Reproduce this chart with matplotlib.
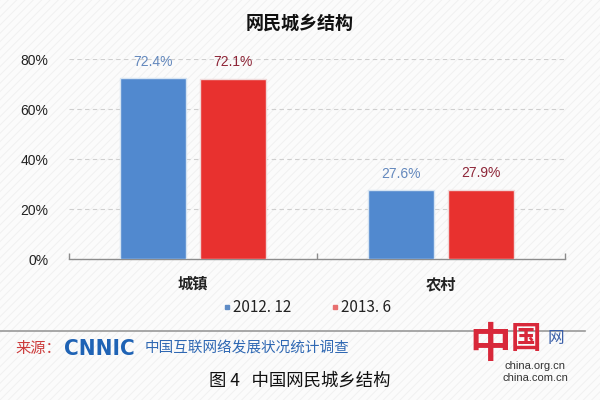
import numpy as np
import matplotlib.pyplot as plt
from matplotlib.patches import Rectangle
from matplotlib.lines import Line2D

plt.rcParams['font.family'] = ['Noto Sans CJK SC', 'DejaVu Sans']
plt.rcParams['hatch.linewidth'] = 0.6

categories = ["城镇", "农村"]
series_names = ["2012. 12", "2013. 6"]
values_2012 = [72.4, 27.6]
values_2013 = [72.1, 27.9]
yticks = [0, 20, 40, 60, 80]

blue = "#5189cf"
red = "#e8312f"

fig = plt.figure(figsize=(6, 4), dpi=100, facecolor="#fbfbfb")

# faint diagonal texture of the background
fig.patches.append(Rectangle((0, 0), 1, 1, transform=fig.transFigure,
                             facecolor="none", edgecolor="#efefef",
                             hatch="////", linewidth=0, zorder=-10))

ax = fig.add_axes([0.115, 0.3518, 0.8267, 0.5])
ax.set_facecolor("none")

x = np.arange(len(categories))
w = 0.265
off = 0.1625
b1 = ax.bar(x - off, values_2012, w, color=blue, edgecolor="#d6e4f2",
            linewidth=1.0, label=series_names[0], zorder=3)
b2 = ax.bar(x + off, values_2013, w, color=red, edgecolor="#f0d8d8",
            linewidth=1.0, label=series_names[1], zorder=3)

ax.bar_label(b1, labels=[f"{v:.1f}%" for v in values_2012], padding=7,
             fontsize=10, color="#6388bd", family="Liberation Sans")
ax.bar_label(b2, labels=[f"{v:.1f}%" for v in values_2013], padding=7,
             fontsize=10, color="#8e2638", family="Liberation Sans")

ax.set_xlim(-0.5, 1.5)
ax.set_ylim(0, 80)
ax.set_yticks(yticks)
ax.set_yticklabels([f"{v}%" for v in yticks], fontsize=10,
                   family="Liberation Sans", color="#222222")
ax.tick_params(axis="y", length=0, pad=15)

ax.set_xticks(x)
ax.set_xticklabels(categories, fontsize=11, fontweight="bold", color="#222222")
ax.tick_params(axis="x", which="major", length=0, pad=12)
ax.set_xticks([-0.5, 0.5, 1.5], minor=True)
ax.tick_params(axis="x", which="minor", direction="in", length=4,
               color="#8c8c8c", width=1)

for y in yticks[1:]:
    ax.axhline(y, color="#cfcfcf", linestyle=(0, (4, 3)), linewidth=0.8,
               zorder=1)

for s in ["top", "right", "left"]:
    ax.spines[s].set_visible(False)
ax.spines["bottom"].set_color("#8c8c8c")
ax.spines["bottom"].set_linewidth(1)

fig.text(0.5, 1 - 23 / 400, "网民城乡结构", ha="center", va="center",
         fontsize=13, fontweight="bold", color="#111111")

handles = [Line2D([], [], marker="s", linestyle="none", markersize=3.5,
                  color="#5f8cc6"),
           Line2D([], [], marker="s", linestyle="none", markersize=3.5,
                  color="#e87070")]
fig.legend(handles, series_names, loc="center", ncol=2,
           bbox_to_anchor=(0.512, 1 - 308 / 400), frameon=False,
           fontsize=11, handlelength=0.5, handletextpad=0.15,
           columnspacing=2.6, labelcolor="#222222")

# separator line and source footer
fig.add_artist(Line2D([0.0, 0.975], [1 - 331 / 400] * 2,
                      transform=fig.transFigure, color="#999999", lw=1.2))
fig.text(15 / 600, 1 - 349 / 400, "来源：", ha="left", va="center",
         fontsize=11, color="#cc3b3b")
fig.text(64 / 600, 1 - 349 / 400, "CNNIC", ha="left", va="center",
         fontsize=16, fontweight="heavy", color="#1f63b5",
         family="DejaVu Sans", fontstretch="condensed")
fig.text(145 / 600, 1 - 349 / 400, "中国互联网络发展状况统计调查",
         ha="left", va="center", fontsize=10.5, color="#2f68b3")
fig.text(0.5, 1 - 381 / 400, "图 4   中国网民城乡结构", ha="center",
         va="center", fontsize=12.5, color="#111111")

# china.org.cn watermark
fig.text(490 / 600, 1 - 345 / 400, "中", ha="center", va="center",
         fontsize=30, fontweight="bold", color="#d8283a")
fig.text(526 / 600, 1 - 339 / 400, "国", ha="center", va="center",
         fontsize=22, fontweight="bold", color="#d8283a")
fig.text(556 / 600, 1 - 339 / 400, "网", ha="center", va="center",
         fontsize=12, color="#3a5fa8")
fig.text(535 / 600, 1 - 366 / 400, "china.org.cn", ha="center",
         va="center", fontsize=8, color="#333333", family="Liberation Sans")
fig.text(535 / 600, 1 - 378 / 400, "china.com.cn", ha="center",
         va="center", fontsize=8, color="#333333", family="Liberation Sans")

fig.savefig("out.png", dpi=100, facecolor=fig.get_facecolor())
